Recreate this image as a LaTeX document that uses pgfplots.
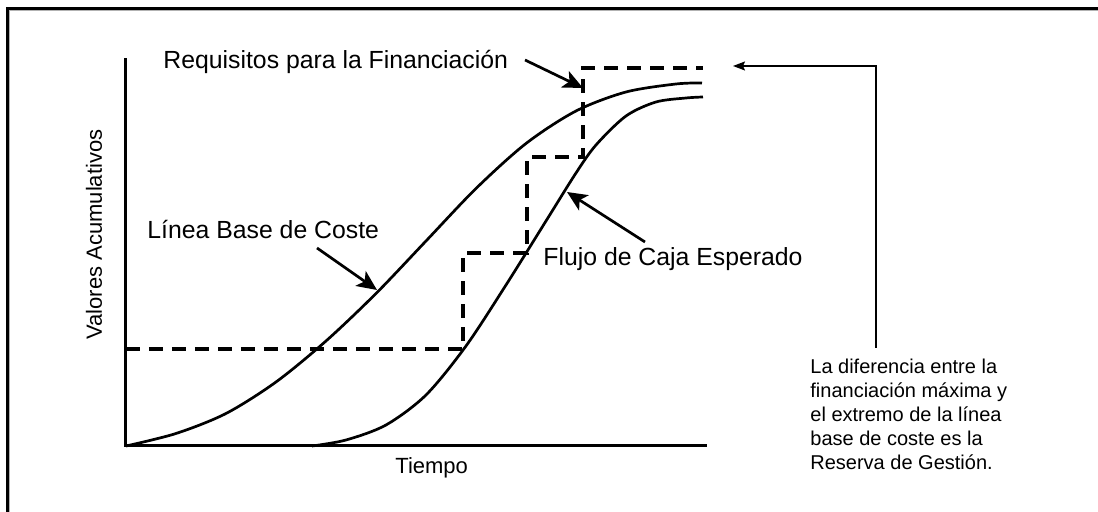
\documentclass[border=0pt]{standalone}
\usepackage{fontspec}
\setmainfont{Liberation Sans}
\usepackage{pgfplots}
\pgfplotsset{compat=1.18}
\usetikzlibrary{arrows.meta}

% curves, in image pixels relative to the axis origin
\pgfplotstableread{
x y
0 0
50 12.5
100 32.5
150 64
200 105
250 152.5
300 205
350 257.5
400 302.5
450 335
500 354
550 362
576 363
}\baseline

\pgfplotstableread{
x y
186 0
220 6
260 21
300 51
340 100
380 161
420 225
450 273
470 301
500 330
530 344
560 348
577 349
}\flujo

\pgfplotstableread{
x y
0 97
337 97
337 193
401 193
401 289
457 289
457 378
577 378
}\requisitos

\newcommand{\lbl}{\fontsize{12.4}{14}\selectfont}

\begin{document}
\begin{tikzpicture}
\begin{axis}[
    at={(0,0)}, anchor=south west,
    scale only axis,
    width=289.5pt, height=193pt,
    xmin=0, xmax=579, ymin=0, ymax=386,
    axis x line=bottom, axis y line=left,
    axis line style={-, line width=1.5pt, line cap=rect},
    xtick=\empty, ytick=\empty,
    clip=false,
]
\addplot[black, line width=1.35pt, smooth] table {\baseline};
\addplot[black, line width=1.35pt, smooth] table {\flujo};
\addplot[black, line width=1.6pt, dash pattern=on 7pt off 4.5pt] table {\requisitos};

% frame
\draw[gray!60, line width=0.8pt] (-116.5,-66) -- (-116.5,435.5) -- (972,435.5);
\draw[black, line width=1.5pt] (-118.5,-66) -- (-118.5,437.5) -- (972,437.5);

% labels
\node[anchor=base west, inner sep=0pt] at (37,377) {\lbl Requisitos para la Financiación};
\node[anchor=base west, inner sep=0pt] at (21,207) {\lbl Línea Base de Coste};
\node[anchor=base west, inner sep=0pt] at (417,180) {\lbl Flujo de Caja Esperado};
\node[anchor=base west, inner sep=0pt] at (269,-28) {\fontsize{11}{13}\selectfont Tiempo};
\node[rotate=90, inner sep=0pt] at (-32,211.5) {\fontsize{11}{13}\selectfont Valores Acumulativos};

\draw[line width=1.35pt, -{Stealth[length=10pt, width=9pt, inset=2.5pt]}] (399,386) -- (457,358);
\draw[line width=1.35pt, -{Stealth[length=10pt, width=9pt, inset=2.5pt]}] (191,198) -- (251,156);
\draw[line width=1.35pt, -{Stealth[length=10pt, width=9pt, inset=2.5pt]}] (519,204) -- (441,254);

\draw[line width=0.7pt, -{Stealth[length=6pt, width=4.5pt, inset=1pt]}] (750,98) -- (750,380) -- (607,380);
\node[anchor=base west, inner sep=0pt, align=left, font=\fontsize{10}{12.1}\selectfont] at (684,-24)
  {La diferencia entre la\\financiación máxima y\\el extremo de la línea\\base de coste es la\\Reserva de Gestión.};
\end{axis}
\pgfresetboundingbox
\path[use as bounding box] (-63pt,-33pt) rectangle (486pt,223pt);
\end{tikzpicture}
\end{document}
